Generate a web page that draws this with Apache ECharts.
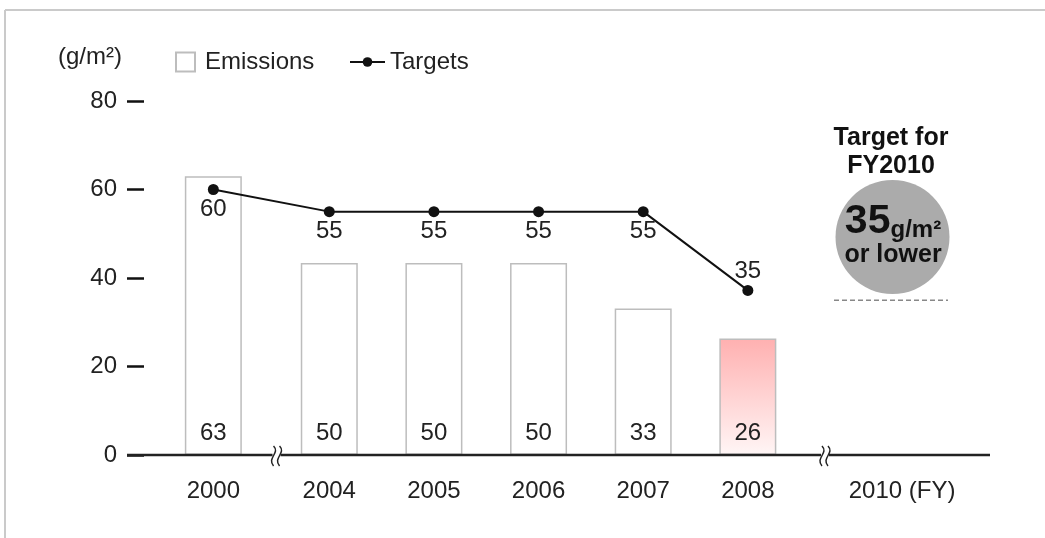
<!DOCTYPE html>
<html>
<head>
<meta charset="utf-8">
<script src="https://cdn.jsdelivr.net/npm/echarts@6/dist/echarts.min.js"></script>
<style>
  html, body { margin: 0; padding: 0; background: #fff; }
  #chart { width: 1045px; height: 538px; }
</style>
</head>
<body>
<div id="chart"></div>
<script>
// values
var years = [2000, 2004, 2005, 2006, 2007, 2008];
var axisYears = [2000, 2004, 2005, 2006, 2007, 2008, 2010];
// bar heights as they are drawn, and the numbers printed in the bars
var emissions = [63, 43.4, 43.4, 43.4, 33.1, 26.3];
var emissionLabels = ['63', '50', '50', '50', '33', '26'];
// target points as drawn, and their printed numbers
var targets = [60, 55, 55, 55, 55, 37.2];
var targetLabels = ['60', '55', '55', '55', '55', '35'];
var goal2010 = 35;
// skipped years on the x axis
var axisBreaks = [[2000.55, 2003.55, '1.31%'], [2008.5, 2009.5, '5.75%']];
var xMin = 1999.175, xMax = 2010.84;

var FONT = 'Liberation Sans';
var chart = echarts.init(document.getElementById('chart'));

var barData = years.map(function (y, i) {
  var d = { value: [y, emissions[i]] };
  if (y === 2008) {
    d.itemStyle = {
      color: new echarts.graphic.LinearGradient(0, 0, 0, 1, [
        { offset: 0, color: '#ffb0b0' },
        { offset: 1, color: '#fff6f6' }
      ])
    };
  }
  return d;
});

var lineData = years.map(function (y, i) {
  var d = { value: [y, targets[i]] };
  if (i === years.length - 1) d.label = { position: 'top' };
  return d;
});

var txt = { fontFamily: FONT, fontSize: 24, color: '#222' };

chart.setOption({
  animation: false,
  grid: { left: 127, right: 55, top: 101, bottom: 83 },
  legend: [{
    data: ['Emissions'],
    left: 170, top: 45,
    icon: 'rect',
    itemWidth: 19, itemHeight: 19,
    selectedMode: false,
    textStyle: { fontFamily: FONT, fontSize: 24, color: '#222', padding: [0, 0, 0, 5] }
  }, {
    data: ['Targets'],
    left: 344, top: 45,
    itemWidth: 35, itemHeight: 12,
    selectedMode: false,
    textStyle: txt
  }],
  xAxis: {
    type: 'value',
    min: xMin,
    max: xMax,
    breaks: axisBreaks.map(function (b) { return { start: b[0], end: b[1], gap: b[2] }; }),
    breakArea: { show: false },
    axisLine: { show: false },
    axisTick: { show: false },
    splitLine: { show: false },
    axisLabel: {
      customValues: axisYears,
      margin: 24,
      fontFamily: FONT, fontSize: 24, color: '#222',
      formatter: function (v) { return v === 2010 ? '2010 (FY)' : String(v); }
    }
  },
  yAxis: {
    type: 'value',
    min: 0, max: 80, interval: 20,
    name: '(g/m²)',
    nameLocation: 'end',
    nameGap: 44,
    nameTextStyle: { fontFamily: FONT, fontSize: 24, color: '#222', align: 'right', verticalAlign: 'middle', padding: [0, 5, 0, 0] },
    axisLine: { show: false },
    axisTick: { show: true, inside: true, length: 17, lineStyle: { color: '#111', width: 2.5 } },
    splitLine: { show: false },
    axisLabel: { margin: 10, fontFamily: FONT, fontSize: 24, color: '#222' }
  },
  series: [{
    name: 'Emissions',
    type: 'bar',
    data: barData,
    barWidth: 57,
    itemStyle: { color: '#fff', borderColor: '#bdbdbd', borderWidth: 1.5 },
    label: {
      show: true, position: 'insideBottom', distance: 10,
      fontFamily: FONT, fontSize: 24, color: '#222',
      formatter: function (p) { return emissionLabels[p.dataIndex]; }
    }
  }, {
    name: 'Targets',
    type: 'line',
    data: lineData,
    symbol: 'circle',
    symbolSize: 11,
    z: 5,
    lineStyle: { color: '#111', width: 2 },
    itemStyle: { color: '#111' },
    label: {
      show: true, position: 'bottom', distance: 2,
      fontFamily: FONT, fontSize: 24, color: '#222',
      formatter: function (p) { return targetLabels[p.dataIndex]; }
    }
  }]
});

// x axis line with break marks, the frame and the FY2010 callout
function px(v) { return chart.convertToPixel({ xAxisIndex: 0 }, v); }
var axisY = chart.convertToPixel({ yAxisIndex: 0 }, 0);
var goalY = chart.convertToPixel({ yAxisIndex: 0 }, goal2010);

function breakMark(cx) {
  var els = [{
    type: 'rect', z: 100,
    shape: { x: cx - 4, y: axisY - 3, width: 8, height: 6 },
    style: { fill: '#fff' }
  }];
  [-3, 3].forEach(function (d) {
    els.push({
      type: 'bezierCurve', z: 101,
      shape: { x1: cx + d, y1: axisY - 9, cpx1: cx + d + 7, cpy1: axisY - 2, cpx2: cx + d - 7, cpy2: axisY + 3, x2: cx + d, y2: axisY + 11 },
      style: { stroke: '#222', lineWidth: 1.5, fill: null }
    });
  });
  return els;
}

var graphics = [
  { type: 'line', shape: { x1: 5, y1: 10, x2: 1045, y2: 10 }, style: { stroke: '#cacaca', lineWidth: 2 } },
  { type: 'line', shape: { x1: 5, y1: 10, x2: 5, y2: 538 }, style: { stroke: '#cacaca', lineWidth: 2 } },
  { type: 'line', z: 99, shape: { x1: px(xMin), y1: axisY, x2: px(xMax), y2: axisY }, style: { stroke: '#222', lineWidth: 2.5 } },
  {
    type: 'text',
    style: { text: 'Target for\nFY2010', x: 891, y: 124, align: 'center', verticalAlign: 'top', font: 'bold 25px ' + FONT, lineHeight: 28, fill: '#111' }
  },
  { type: 'circle', shape: { cx: 892.5, cy: 237, r: 57 }, style: { fill: '#ababab' } },
  {
    type: 'text', z: 10,
    style: {
      text: '{a|35}{b|g/m²}\n{c|or lower}',
      x: 893, y: 238, align: 'center', verticalAlign: 'middle',
      rich: {
        a: { fontFamily: FONT, fontWeight: 'bold', fontSize: 41, lineHeight: 34, fill: '#111', verticalAlign: 'bottom' },
        b: { fontFamily: FONT, fontWeight: 'bold', fontSize: 24, lineHeight: 34, fill: '#111', verticalAlign: 'bottom' },
        c: { fontFamily: FONT, fontWeight: 'bold', fontSize: 25, lineHeight: 26, fill: '#111' }
      }
    }
  },
  { type: 'line', shape: { x1: 834, y1: goalY, x2: 948, y2: goalY }, style: { stroke: '#888', lineWidth: 1.5, lineDash: [5, 3] } }
];
axisBreaks.forEach(function (b) {
  graphics = graphics.concat(breakMark((px(b[0]) + px(b[1])) / 2));
});

chart.setOption({ graphic: graphics });
</script>
</body>
</html>
